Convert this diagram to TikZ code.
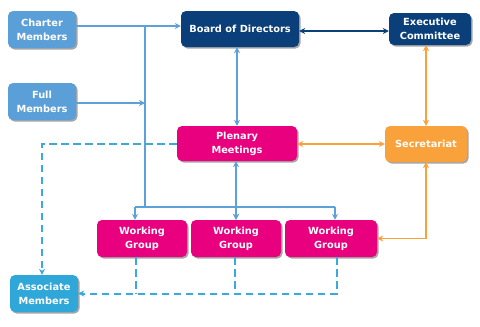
\documentclass[tikz,border=0pt]{standalone}
\usepackage{fontspec}
\setmainfont{DejaVu Sans}
\usetikzlibrary{arrows.meta,shadows}
\definecolor{lblue}{HTML}{5B9FD8}
\definecolor{navy}{HTML}{0A3F7A}
\definecolor{magen}{HTML}{E8007F}
\definecolor{orng}{HTML}{F9A13A}
\definecolor{cyanb}{HTML}{2FA7D8}
\definecolor{lineblue}{HTML}{5DA1DB}
\definecolor{dashblue}{HTML}{3AA9DB}
\tikzset{
  box/.style={rounded corners=5pt, text=white, align=center, inner sep=0pt,
    font=\bfseries\fontsize{9.8}{14}\selectfont,
    drop shadow={shadow xshift=1.5pt, shadow yshift=-1.5pt, fill=black!35, opacity=1}},
  arr/.style={-{Stealth[length=6pt,width=6pt]}},
  darr/.style={{Stealth[length=6pt,width=6pt]}-{Stealth[length=6pt,width=6pt]}},
  blueline/.style={draw=lineblue, line width=2pt},
  navyline/.style={draw=navy, line width=2pt},
  orline/.style={draw=orng, line width=2pt},
  thinor/.style={draw=orng, line width=1.2pt},
  dashline/.style={draw=dashblue, line width=2pt, dash pattern=on 7.5pt off 4.5pt},
}
\begin{document}
\begin{tikzpicture}[x=1pt,y=-1pt]
\useasboundingbox (0,0) rectangle (480,327);
\fill[white] (0,0) rectangle (480,327);
\node[box, fill=lblue, minimum width=68pt, minimum height=37pt] (charter) at (42,29.5) {Charter\\Members};
\node[box, fill=lblue, minimum width=68pt, minimum height=37pt] (full) at (42,101.5) {Full\\Members};
\node[box, fill=navy, minimum width=118pt, minimum height=36pt] (board) at (240,29) {Board of Directors};
\node[box, fill=navy, minimum width=82pt, minimum height=32pt] (exec) at (430,29) {Executive\\Committee};
\node[box, fill=magen, minimum width=120pt, minimum height=35pt] (plen) at (237,143.5) {Plenary\\Meetings};
\node[box, fill=orng, minimum width=82pt, minimum height=36pt] (sec) at (426,144) {Secretariat};
\node[box, fill=magen, minimum width=90pt, minimum height=37pt] (wg1) at (142,238.5) {Working\\Group};
\node[box, fill=magen, minimum width=90pt, minimum height=37pt] (wg2) at (236,238.5) {Working\\Group};
\node[box, fill=magen, minimum width=92pt, minimum height=37pt] (wg3) at (331,238.5) {Working\\Group};
\node[box, fill=cyanb, minimum width=68pt, minimum height=37pt] (assoc) at (44,293.5) {Associate\\Members};

\coordinate (tTop) at (145,26);
\coordinate (tBot) at (145,207);
\coordinate (hL) at (135,207);
\coordinate (hR) at (335,207);
\coordinate (cornerSec) at (426,238.5);
\coordinate (dPl) at (42,143.5);
\coordinate (dBot1) at (136,293.5);
\coordinate (dBot2) at (235,293.5);
\coordinate (dBot3) at (337,293.5);

% blue solid
\draw[blueline, arr] (charter.east |- tTop) -- (board.west |- tTop);
\draw[blueline] (tTop) -- (tBot);
\draw[blueline, arr] (full.east |- 0,103) -- (145,103);
\draw[blueline] (hL) -- (hR);
\draw[blueline, arr] (hL) -- (wg1.north -| hL);
\draw[blueline, arr] (236,207) -- (wg2.north -| 236,0);
\draw[blueline, arr] (hR) -- (wg3.north -| hR);
\draw[blueline, darr] (board.south -| 237,0) -- (plen.north -| 237,0);
\draw[blueline, darr] (plen.south -| 236,0) -- (wg2.north -| 236,0);

% navy / orange
\draw[navyline, darr] (board.east |- 0,31) -- (exec.west |- 0,31);
\draw[orline, darr] (exec.south -| 426,0) -- (sec.north -| 426,0);
\draw[orline, darr] (plen.east |- 0,144) -- (sec.west |- 0,144);
\draw[thinor, darr] (sec.south) -- (cornerSec) -- (wg3.east);

% dashed
\draw[dashline, arr] (plen.west) -- (dPl) -- (assoc.north -| dPl);
\draw[dashline] (wg1.south -| dBot1) -- (dBot1);
\draw[dashline] (wg2.south -| dBot2) -- (dBot2);
\draw[dashline, arr] (wg3.south -| dBot3) -- (dBot3) -- (assoc.east);
\end{tikzpicture}
\end{document}
